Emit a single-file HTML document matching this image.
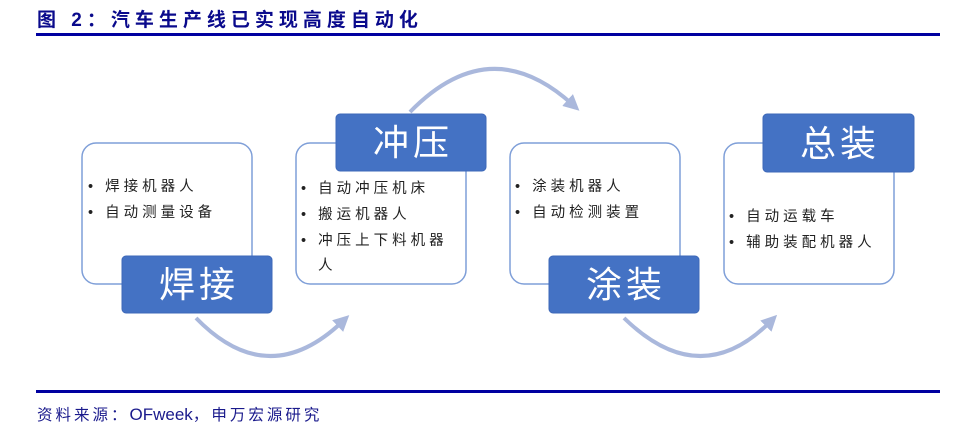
<!DOCTYPE html>
<html><head><meta charset="utf-8"><style>
html,body{margin:0;padding:0;background:#fff;}
svg{display:block;}
text{font-family:"Liberation Sans","Noto Sans CJK SC",sans-serif;}
</style></head><body>
<svg width="954" height="433" viewBox="0 0 954 433" xmlns="http://www.w3.org/2000/svg">
<text x="37" y="26" font-size="19" font-weight="bold" fill="#0a0a8c" letter-spacing="5">图 2：汽车生产线已实现高度自动化</text>
<rect x="36" y="33" width="904" height="3" fill="#0000a0"/>
<defs><marker id="ah" markerWidth="4" markerHeight="4" refX="1.5" refY="2" orient="auto" markerUnits="strokeWidth"><path d="M0,0 L4,2 L0,4 Z" fill="#aab8dc"/></marker></defs>
<g fill="none" stroke="#aab8dc" stroke-width="4">
<path d="M196,318 Q268,392 342,322" marker-end="url(#ah)"/>
<path d="M410,112 Q490,30 572,104" marker-end="url(#ah)"/>
<path d="M624,318 Q700,392 770,322" marker-end="url(#ah)"/>
</g>
<g fill="#fff" stroke="#7f9fd8" stroke-width="1.5">
<rect x="82" y="143" width="170" height="141" rx="14"/>
<rect x="296" y="143" width="170" height="141" rx="14"/>
<rect x="510" y="143" width="170" height="141" rx="14"/>
<rect x="724" y="143" width="170" height="141" rx="14"/>
</g>
<g fill="#4472c4" stroke="#3e68b8" stroke-width="1">
<rect x="122" y="256" width="150" height="57" rx="4"/>
<rect x="336" y="114" width="150" height="57" rx="4"/>
<rect x="549" y="256" width="150" height="57" rx="4"/>
<rect x="763" y="114" width="151" height="58" rx="4"/>
</g>
<g fill="#fff" font-size="36" text-anchor="middle" style="font-family:'Noto Serif CJK SC',serif" letter-spacing="4">
<text x="199" y="297">焊接</text>
<text x="413" y="155">冲压</text>
<text x="626" y="297">涂装</text>
<text x="840" y="156">总装</text>
</g>
<g fill="#222" font-size="14.5" letter-spacing="4">
<text x="88" y="191">• 焊接机器人</text>
<text x="88" y="217">• 自动测量设备</text>
<text x="301" y="193">• 自动冲压机床</text>
<text x="301" y="219">• 搬运机器人</text>
<text x="301" y="245">• 冲压上下料机器</text>
<text x="318" y="270">人</text>
<text x="515" y="191">• 涂装机器人</text>
<text x="515" y="217">• 自动检测装置</text>
<text x="729" y="221">• 自动运载车</text>
<text x="729" y="247">• 辅助装配机器人</text>
</g>
<rect x="36" y="390" width="904" height="3" fill="#0000a0"/>
<text x="37" y="420" font-size="15.5" fill="#1a1a8c"><tspan letter-spacing="3">资料来源：</tspan><tspan letter-spacing="0" font-size="17">OFweek</tspan><tspan letter-spacing="3">，申万宏源研究</tspan></text>
</svg>
</body></html>
